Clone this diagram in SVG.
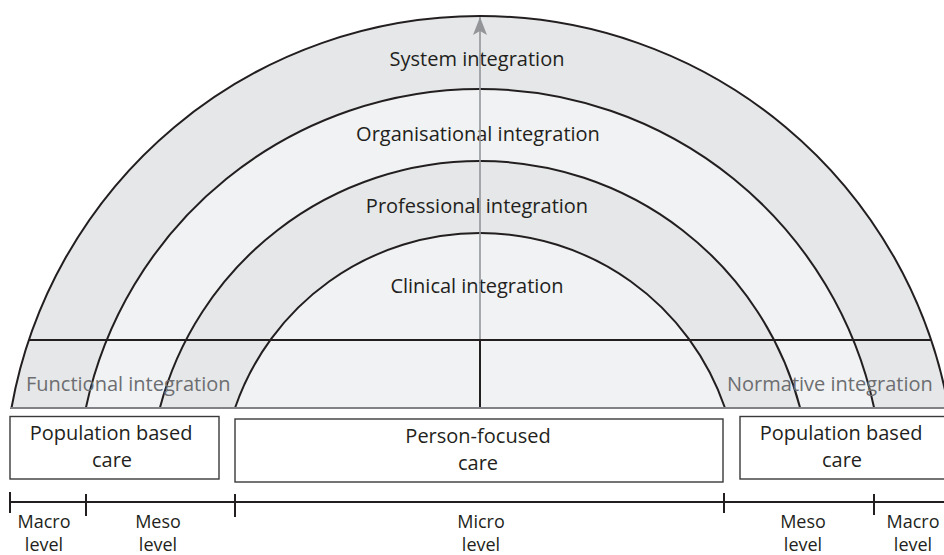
<svg xmlns="http://www.w3.org/2000/svg" width="944" height="555" viewBox="0 0 944 555">
  <style>
    .band-dark { fill: #e6e7e8; stroke: #231f20; stroke-width: 2; }
    .band-light { fill: #f1f2f3; stroke: #231f20; stroke-width: 2; }
    .rule { stroke: #231f20; stroke-width: 2; fill: none; }
    .label { font-family: "Open Sans", "Liberation Sans", sans-serif; font-size: 20px; fill: #231f20; text-anchor: middle; }
    .muted { font-family: "Open Sans", "Liberation Sans", sans-serif; font-size: 20px; fill: #6d6e71; }
    .level { font-family: "Open Sans", "Liberation Sans", sans-serif; font-size: 18px; fill: #231f20; text-anchor: middle; }
    .box { fill: #ffffff; stroke: #3a3a3a; stroke-width: 1.4; }
  </style>
  <defs>
    <marker id="arrowHead" viewBox="0 0 18 14" refX="18" refY="7" markerWidth="18" markerHeight="14" markerUnits="userSpaceOnUse" orient="auto">
      <path d="M18 7 L0 0 L4 7 L0 14 Z" fill="#939598"/>
    </marker>
  </defs>

  <rect width="944" height="555" fill="#ffffff"/>

  <!-- concentric arcs, circle centre (480, 492), cut at the baseline y=408 -->
  <g id="system-integration">
    <path class="band-dark" d="M11.47 408 A476 476 0 0 1 948.53 408 Z"/>
    <text class="label" x="477" y="66">System integration</text>
  </g>
  <g id="organisational-integration">
    <path class="band-light" d="M85.85 408 A403 403 0 0 1 874.15 408 Z"/>
    <text class="label" x="478" y="141">Organisational integration</text>
  </g>
  <g id="professional-integration">
    <path class="band-dark" d="M159.84 408 A331 331 0 0 1 800.16 408 Z"/>
    <text class="label" x="477" y="213">Professional integration</text>
  </g>
  <g id="clinical-integration">
    <path class="band-light" d="M235 408 A259 259 0 0 1 725 408 Z"/>
    <text class="label" x="477" y="293">Clinical integration</text>
  </g>

  <g id="connectors">
    <!-- horizontal divider and centre split -->
    <line class="rule" x1="28.9" y1="340" x2="931.1" y2="340"/>
    <line class="rule" x1="480" y1="340" x2="480" y2="408"/>
    <!-- baseline -->
    <line x1="11" y1="408" x2="944" y2="408" stroke="#808285" stroke-width="2"/>
    <!-- upward arrow -->
    <line x1="480" y1="339" x2="480" y2="17" stroke="#939598" stroke-width="1.6" marker-end="url(#arrowHead)"/>
    <!-- level scale -->
    <line x1="10" y1="502" x2="944" y2="502" stroke="#231f20" stroke-width="2"/>
    <line x1="10" y1="492" x2="10" y2="513" stroke="#231f20" stroke-width="2"/>
    <line x1="86" y1="494" x2="86" y2="516" stroke="#231f20" stroke-width="2"/>
    <line x1="235" y1="494" x2="235" y2="517" stroke="#231f20" stroke-width="2"/>
    <line x1="724" y1="493" x2="724" y2="513" stroke="#231f20" stroke-width="2"/>
    <line x1="874" y1="494" x2="874" y2="515" stroke="#231f20" stroke-width="2"/>
  </g>

  <g id="functional-integration">
    <text class="muted" x="26" y="391">Functional integration</text>
  </g>
  <g id="normative-integration">
    <text class="muted" x="727" y="391">Normative integration</text>
  </g>

  <g id="population-care-left">
    <rect class="box" x="10" y="416.5" width="209" height="62.5"/>
    <text class="label" x="111" y="440">Population based</text>
    <text class="label" x="112" y="467">care</text>
  </g>
  <g id="person-focused-care">
    <rect class="box" x="235" y="419" width="488" height="63"/>
    <text class="label" x="478" y="443">Person-focused</text>
    <text class="label" x="478" y="470">care</text>
  </g>
  <g id="population-care-right">
    <rect class="box" x="740" y="416.5" width="210" height="62.5"/>
    <text class="label" x="841" y="440">Population based</text>
    <text class="label" x="842" y="467">care</text>
  </g>

  <g id="macro-left">
    <text class="level" x="44" y="528">Macro</text>
    <text class="level" x="44" y="551">level</text>
  </g>
  <g id="meso-left">
    <text class="level" x="158" y="528">Meso</text>
    <text class="level" x="158" y="551">level</text>
  </g>
  <g id="micro">
    <text class="level" x="481" y="528">Micro</text>
    <text class="level" x="481" y="551">level</text>
  </g>
  <g id="meso-right">
    <text class="level" x="803" y="528">Meso</text>
    <text class="level" x="803" y="551">level</text>
  </g>
  <g id="macro-right">
    <text class="level" x="913" y="528">Macro</text>
    <text class="level" x="913" y="551">level</text>
  </g>
</svg>
